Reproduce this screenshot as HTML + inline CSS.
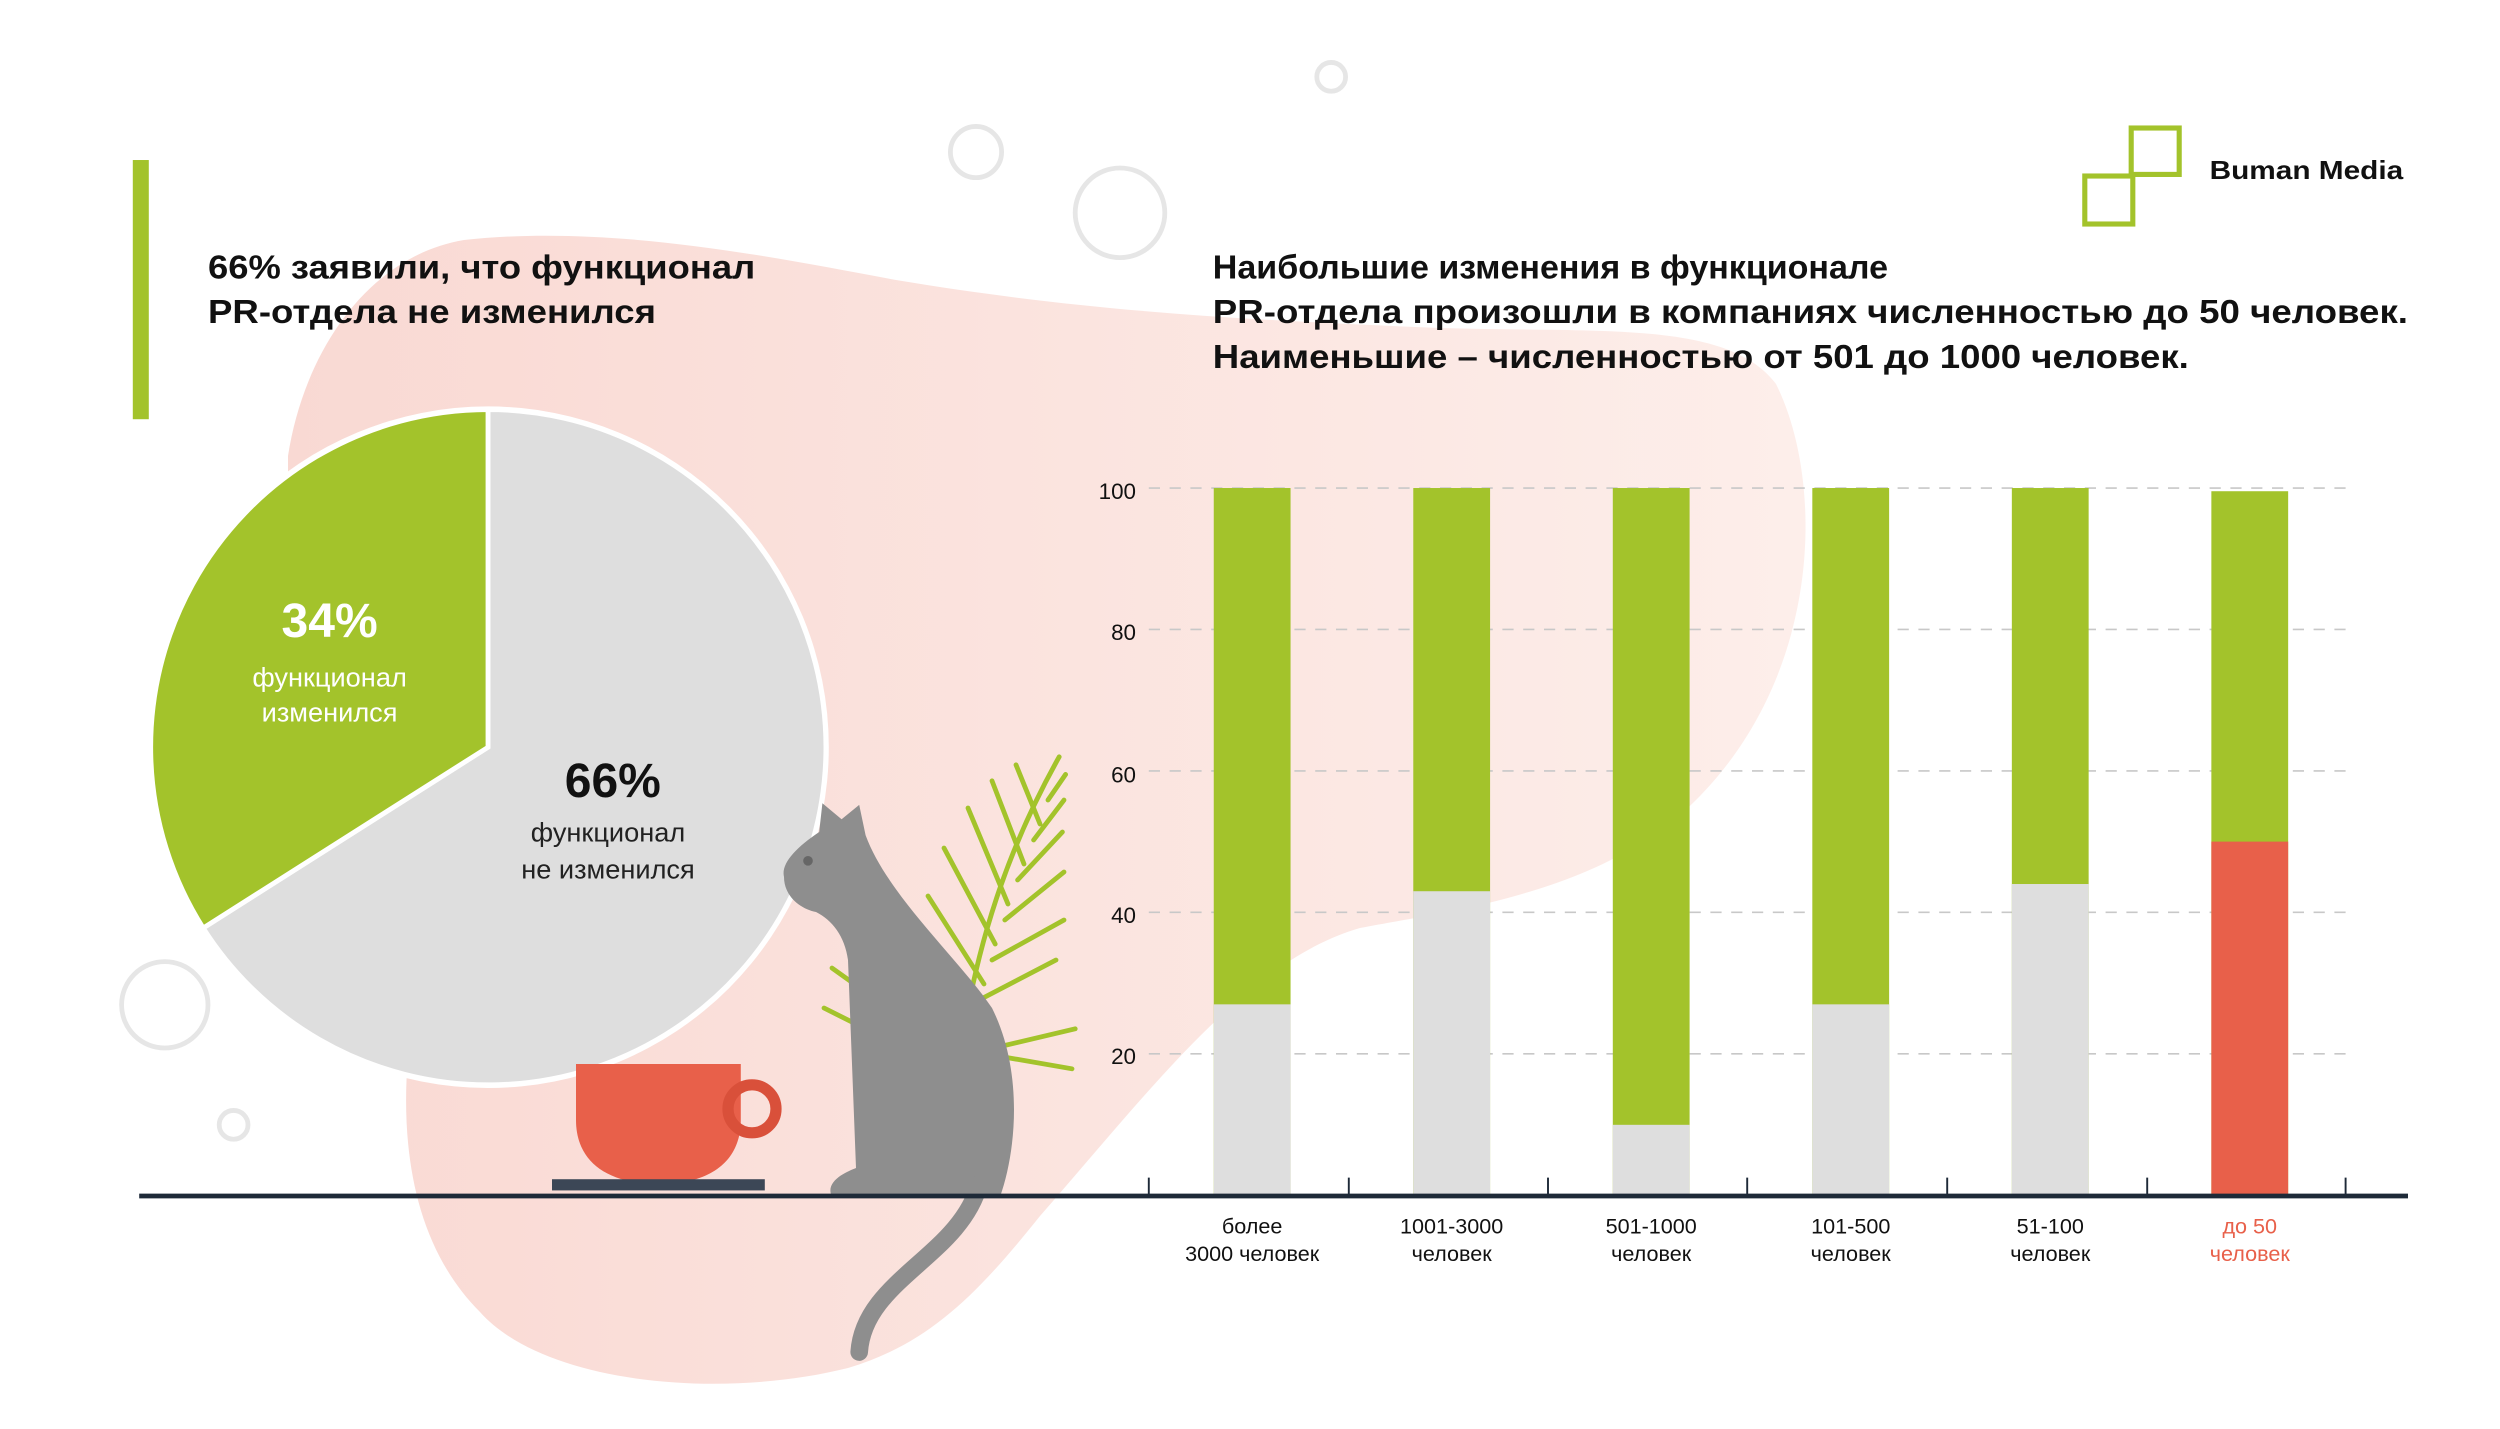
<!DOCTYPE html>
<html><head><meta charset="utf-8"><style>html,body{margin:0;padding:0;background:#fff}svg{display:block}</style></head><body>
<svg width="2500" height="1429" viewBox="0 0 1562.5 893.1" xmlns="http://www.w3.org/2000/svg" font-family="'Liberation Sans', sans-serif">
<defs><linearGradient id="bg" x1="0" y1="0" x2="1" y2="0"><stop offset="0" stop-color="#f9d9d3"/><stop offset="1" stop-color="#fdeeea"/></linearGradient></defs>
<rect width="1562.5" height="893.1" fill="#fff"/>
<path d="M180,285 C190,220 230,160 290,150 C380,140 480,160 560,175 C680,195 780,200 900,205 C1000,208 1080,200 1110,240 C1140,300 1140,420 1060,500 C1000,560 900,570 850,580 C780,600 720,680 650,760 C610,810 580,840 530,855 C450,875 340,865 300,820 C260,780 250,720 255,660 L180,520 Z" fill="url(#bg)"/>
<g fill="none" stroke="#e6e6e6" stroke-width="3">
<circle cx="610" cy="95" r="16"/><circle cx="700" cy="133" r="28"/><circle cx="832" cy="48" r="9"/><circle cx="103" cy="628" r="27"/><circle cx="146" cy="703" r="9"/></g>
<rect x="83" y="100" width="10" height="162" fill="#a3c32b"/>
<g font-weight="bold" font-size="21" fill="#111" lengthAdjust="spacingAndGlyphs">
<text x="130" y="174" textLength="342" lengthAdjust="spacingAndGlyphs">66% заявили, что функционал</text>
<text x="130" y="202" textLength="280" lengthAdjust="spacingAndGlyphs">PR-отдела не изменился</text>
<text x="758" y="174" textLength="422" lengthAdjust="spacingAndGlyphs">Наибольшие изменения в функционале</text>
<text x="758" y="202" textLength="747" lengthAdjust="spacingAndGlyphs">PR-отдела  произошли в компаниях численностью до 50 человек.</text>
<text x="758" y="230" textLength="610" lengthAdjust="spacingAndGlyphs">Наименьшие – численностью от 501 до 1000 человек.</text>
</g>
<g fill="none" stroke="#a3c32b" stroke-width="3.2"><rect x="1332" y="80" width="30" height="29"/><rect x="1303" y="110" width="30" height="30"/></g>
<text x="1381" y="112" font-size="16" font-weight="bold" fill="#111" textLength="121" lengthAdjust="spacingAndGlyphs">Buman Media</text>
<!-- pie -->
<circle cx="305" cy="467" r="213" fill="#fff"/>
<path d="M305,467 L305,256 A211,211 0 1 1 127,580 Z" fill="#dedede" stroke="#fff" stroke-width="3"/>
<path d="M305,467 L127,580 A211,211 0 0 1 305,256 Z" fill="#a3c32b" stroke="#fff" stroke-width="3"/>
<g text-anchor="middle">
<text x="206" y="398" font-size="30" font-weight="bold" fill="#fff">34%</text>
<text x="206" y="429" font-size="17" fill="#fff">функционал</text>
<text x="206" y="451" font-size="17" fill="#fff">изменился</text>
<text x="383" y="498" font-size="30" font-weight="bold" fill="#111">66%</text>
<text x="380" y="526" font-size="17" fill="#222">функционал</text>
<text x="380" y="549" font-size="17" fill="#222">не изменился</text>
</g>
<!-- plant -->
<g stroke="#a3c32b" stroke-width="3" fill="none" stroke-linecap="round">
<path d="M600,660 C610,590 630,530 662,473"/>
<path d="M610,640 L572,590 M615,615 L580,560 M622,590 L590,530 M630,565 L605,505 M640,540 L620,488 M650,515 L635,478 M612,625 L660,600 M620,600 L665,575 M628,575 L665,545 M636,550 L664,520 M646,525 L665,500 M655,500 L666,484"/>
<path d="M520,605 L590,655 M600,660 L672,643 M595,655 L670,668 M515,630 L585,665"/>
</g>
<!-- cup -->
<path d="M360,665 L463,665 L463,700 C463,725 445,740 412,740 C378,740 360,725 360,700 Z" fill="#e8604a"/>
<circle cx="470" cy="693" r="15" fill="none" stroke="#d9503a" stroke-width="7"/>
<rect x="345" y="737" width="133" height="7" fill="#3c4756"/>
<!-- cat -->
<path d="M490,548 C488,540 497,530 512,520 L514,502 L526,512 L537,503 L541,522 C555,560 600,600 620,630 C640,670 635,720 625,748 L520,748 C515,738 530,732 535,730 L530,600 C528,585 520,575 510,570 C500,568 490,560 490,548 Z" fill="#8e8e8e"/>
<path d="M612,740 C600,785 540,800 537,845" stroke="#8e8e8e" stroke-width="11" fill="none" stroke-linecap="round"/>
<circle cx="505" cy="538" r="3" fill="#666"/>
<!-- chart -->
<g stroke="#c8c8c8" stroke-width="1" stroke-dasharray="7,6">
<line x1="718" y1="305" x2="1466" y2="305"/><line x1="718" y1="393.4" x2="1466" y2="393.4"/><line x1="718" y1="481.8" x2="1466" y2="481.8"/><line x1="718" y1="570.2" x2="1466" y2="570.2"/><line x1="718" y1="658.6" x2="1466" y2="658.6"/>
</g>
<g font-size="14" fill="#111" text-anchor="end">
<text x="710" y="312">100</text><text x="710" y="400">80</text><text x="710" y="489">60</text><text x="710" y="577">40</text><text x="710" y="665">20</text>
</g>
<g>
<rect x="758.6" y="305" width="48" height="442" fill="#a3c32b"/><rect x="758.6" y="627.7" width="48" height="119.3" fill="#dedede"/>
<rect x="883.3" y="305" width="48" height="442" fill="#a3c32b"/><rect x="883.3" y="557" width="48" height="190" fill="#dedede"/>
<rect x="1008" y="305" width="48" height="442" fill="#a3c32b"/><rect x="1008" y="703" width="48" height="44" fill="#dedede"/>
<rect x="1132.7" y="305" width="48" height="442" fill="#a3c32b"/><rect x="1132.7" y="627.7" width="48" height="119.3" fill="#dedede"/>
<rect x="1257.4" y="305" width="48" height="442" fill="#a3c32b"/><rect x="1257.4" y="552.5" width="48" height="194.5" fill="#dedede"/>
<rect x="1382.1" y="307" width="48" height="440" fill="#a3c32b"/><rect x="1382.1" y="526" width="48" height="221" fill="#e8604a"/>
</g>
<line x1="87" y1="747.5" x2="1505" y2="747.5" stroke="#1e2a38" stroke-width="3"/>
<g stroke="#1e2a38" stroke-width="1.2">
<line x1="718" y1="736" x2="718" y2="747"/><line x1="843" y1="736" x2="843" y2="747"/><line x1="967.5" y1="736" x2="967.5" y2="747"/><line x1="1092" y1="736" x2="1092" y2="747"/><line x1="1217" y1="736" x2="1217" y2="747"/><line x1="1342" y1="736" x2="1342" y2="747"/><line x1="1466" y1="736" x2="1466" y2="747"/>
</g>
<g font-size="13.5" fill="#111" text-anchor="middle">
<text x="782.6" y="771">более</text><text x="782.6" y="788">3000 человек</text>
<text x="907.3" y="771">1001-3000</text><text x="907.3" y="788">человек</text>
<text x="1032" y="771">501-1000</text><text x="1032" y="788">человек</text>
<text x="1156.7" y="771">101-500</text><text x="1156.7" y="788">человек</text>
<text x="1281.4" y="771">51-100</text><text x="1281.4" y="788">человек</text>
<text x="1406.1" y="771" fill="#e8604a">до 50</text><text x="1406.1" y="788" fill="#e8604a">человек</text>
</g>
</svg>
</body></html>
